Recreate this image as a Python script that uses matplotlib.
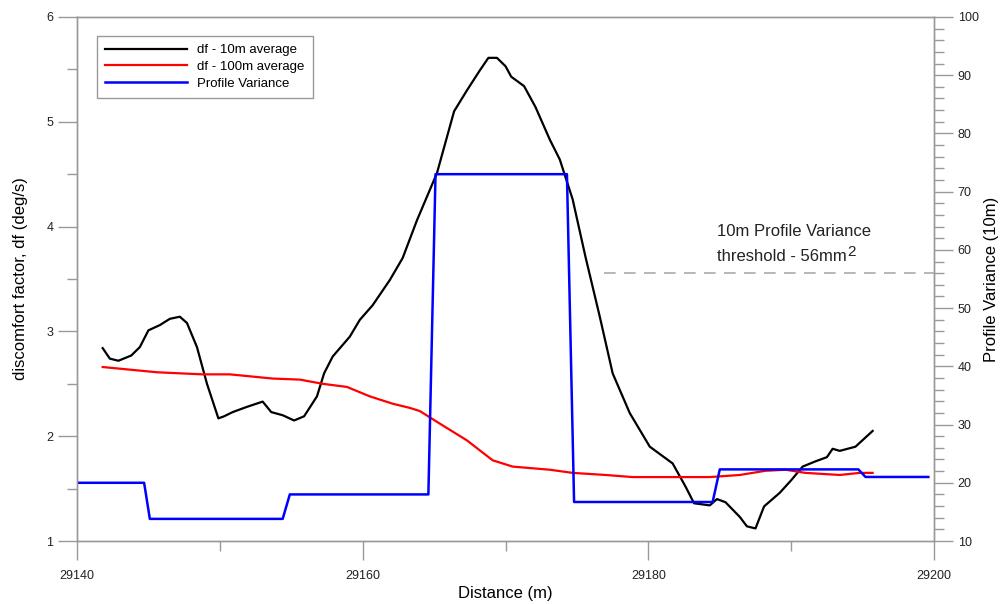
import matplotlib.pyplot as plt
from matplotlib.ticker import MultipleLocator

plt.rcParams['font.family'] = ['Liberation Sans', 'DejaVu Sans']

# df - 10m average (left axis)
dist_10m = [29141.8, 29142.3, 29142.9, 29143.8, 29144.4, 29145.0, 29145.8, 29146.5, 29147.2,
            29147.7, 29148.4, 29149.1, 29149.9, 29150.3, 29150.9, 29151.9, 29153.0, 29153.6,
            29154.4, 29155.2, 29155.9, 29156.8, 29157.3, 29157.9, 29159.1, 29159.8, 29160.7,
            29161.9, 29162.8, 29163.8, 29165.2, 29166.4, 29167.3, 29168.2, 29168.8, 29169.4,
            29170.0, 29170.4, 29171.3, 29172.1, 29173.1, 29173.8, 29174.7, 29175.6, 29176.6,
            29177.5, 29178.7, 29180.1, 29181.7, 29182.6, 29183.2, 29184.3, 29184.8, 29185.4,
            29186.4, 29186.9, 29187.5, 29188.1, 29189.2, 29190.0, 29190.8, 29191.7, 29192.5,
            29192.9, 29193.4, 29194.5, 29195.7]
df_10m = [2.84, 2.74, 2.72, 2.77, 2.85, 3.01, 3.06, 3.12, 3.14,
          3.08, 2.85, 2.50, 2.17, 2.19, 2.23, 2.28, 2.33, 2.23,
          2.20, 2.15, 2.19, 2.38, 2.60, 2.76, 2.95, 3.11, 3.25,
          3.49, 3.70, 4.06, 4.51, 5.10, 5.30, 5.49, 5.61, 5.61,
          5.53, 5.43, 5.34, 5.14, 4.83, 4.64, 4.26, 3.71, 3.14,
          2.60, 2.22, 1.90, 1.74, 1.52, 1.36, 1.34, 1.40, 1.37,
          1.23, 1.14, 1.12, 1.33, 1.46, 1.58, 1.71, 1.76, 1.80,
          1.88, 1.86, 1.90, 2.05]

# df - 100m average (left axis)
dist_100m = [29141.8, 29145.6, 29148.8, 29150.7, 29153.7, 29155.6, 29157.2, 29158.9, 29160.5,
             29162.1, 29163.3, 29164.0, 29165.4, 29167.3, 29169.1, 29170.5, 29173.1, 29174.7,
             29177.0, 29178.9, 29184.3, 29186.4, 29188.2, 29189.6, 29191.0, 29193.4, 29194.8,
             29195.7]
df_100m = [2.66, 2.61, 2.59, 2.59, 2.55, 2.54, 2.50, 2.47, 2.38,
           2.31, 2.27, 2.24, 2.12, 1.96, 1.77, 1.71, 1.68, 1.65,
           1.63, 1.61, 1.61, 1.63, 1.67, 1.68, 1.65, 1.63, 1.65,
           1.65]

# Profile Variance (right axis)
dist_pv = [29140.0, 29144.7, 29145.1, 29154.4, 29154.9, 29164.6, 29165.1, 29174.3, 29174.8,
           29184.5, 29185.0, 29194.7, 29195.2, 29199.6]
pv = [20.0, 20.0, 13.8, 13.8, 18.0, 18.0, 73.0, 73.0, 16.7,
      16.7, 22.3, 22.3, 21.0, 21.0]

threshold = 56
threshold_start = 29176.9

fig = plt.figure(figsize=(10.05, 6.04), dpi=100)
ax = fig.add_axes([0.0766, 0.1043, 0.8528, 0.8676])
ax2 = ax.twinx()

l1, = ax.plot(dist_10m, df_10m, color='black', lw=1.6, label='df - 10m average')
l2, = ax.plot(dist_100m, df_100m, color='#ff0000', lw=1.6, label='df - 100m average')
l3, = ax2.plot(dist_pv, pv, color='#0000ff', lw=1.8, label='Profile Variance')
ax2.plot([threshold_start, 29200], [threshold, threshold], color='#aaaaaa', lw=1.2,
         dashes=(7, 5))

ax.set_xlim(29140, 29200)
ax.set_ylim(1, 6)
ax2.set_ylim(10, 100)

ax.xaxis.set_major_locator(MultipleLocator(20))
ax.xaxis.set_minor_locator(MultipleLocator(10))
ax.yaxis.set_major_locator(MultipleLocator(1))
ax.yaxis.set_minor_locator(MultipleLocator(0.5))
ax2.yaxis.set_major_locator(MultipleLocator(10))
ax2.yaxis.set_minor_locator(MultipleLocator(2))

for a in (ax, ax2):
    for s in a.spines.values():
        s.set_color('#999999')
        s.set_linewidth(1.0)
    a.tick_params(which='major', length=14, width=1.0, color='#999999',
                  labelsize=9, labelcolor='#222222', pad=3)
    a.tick_params(which='minor', length=7, width=1.0, color='#999999')
ax.tick_params(axis='x', which='major', pad=7)

ax.set_xlabel('Distance (m)', fontsize=12, labelpad=3)
ax.set_ylabel('discomfort factor, df (deg/s)', fontsize=12, labelpad=13)
ax2.set_ylabel('Profile Variance (10m)', fontsize=12, labelpad=4)

leg = ax.legend(handles=[l1, l2, l3], loc='upper left', bbox_to_anchor=(0.0233, 0.9637),
                borderaxespad=0, fontsize=9.5, handlelength=6.2, fancybox=False,
                framealpha=1, edgecolor='#999999', borderpad=0.6, labelspacing=0.35,
                handletextpad=0.8)
leg.get_frame().set_linewidth(1.0)

ax2.text(29184.8, 63.1, '10m Profile Variance', fontsize=12, color='#222222',
         va='center', ha='left')
t2 = ax2.text(29184.8, 58.8, 'threshold - 56mm', fontsize=12, color='#222222',
              va='center', ha='left')
# superscript 2, placed right after the second line
fig.canvas.draw()
bb = t2.get_window_extent()
x_sup, y_sup = ax2.transData.inverted().transform((bb.x1 + 1, bb.y1 - 3))
ax2.text(x_sup, y_sup, '2', fontsize=11, color='#222222', va='center', ha='left')

fig.savefig('out.png', dpi=100)
